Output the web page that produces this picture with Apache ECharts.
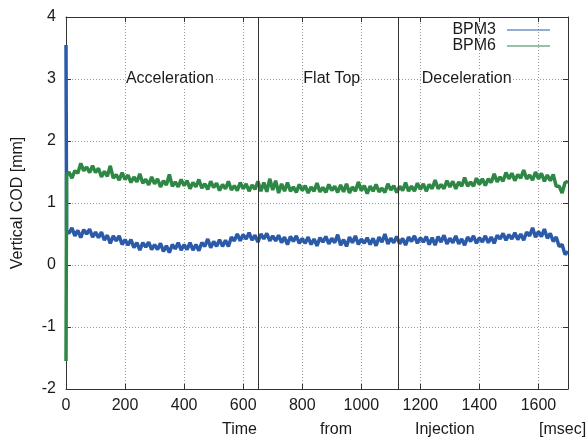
<!DOCTYPE html>
<html>
<head>
<meta charset="utf-8">
<script src="https://cdn.jsdelivr.net/npm/echarts@6/dist/echarts.min.js"></script>
<style>
	html, body {margin: 0; padding: 0; background: #fff;}
	#main {width: 588px; height: 438px;}
</style>
</head>
<body>
<div id="main"></div>
<script>
// sampling interval of the traces [msec]
var timeStep = 10;

// injection transient right at t = 0: [msec, mm]
var bpm3Start = [[0, 3.55], [2, 0.55]];
var bpm6Start = [[0, -1.55], [2, 1.45]];

// vertical COD [mm], one value every timeStep msec from 10 to 1700
var bpm3 = [
	0.51, 0.60, 0.47, 0.56, 0.44, 0.57, 0.50, 0.58, 0.45, 0.53,
	0.44, 0.53, 0.40, 0.48, 0.35, 0.47, 0.39, 0.47, 0.33, 0.41,
	0.32, 0.41, 0.28, 0.36, 0.24, 0.36, 0.29, 0.37, 0.25, 0.33,
	0.25, 0.35, 0.22, 0.31, 0.20, 0.33, 0.26, 0.36, 0.24, 0.33,
	0.25, 0.36, 0.24, 0.33, 0.23, 0.36, 0.30, 0.42, 0.28, 0.38,
	0.30, 0.41, 0.30, 0.40, 0.30, 0.45, 0.39, 0.50, 0.39, 0.49,
	0.42, 0.52, 0.40, 0.48, 0.37, 0.50, 0.42, 0.51, 0.39, 0.47,
	0.39, 0.48, 0.36, 0.45, 0.33, 0.46, 0.38, 0.47, 0.35, 0.43,
	0.35, 0.45, 0.33, 0.42, 0.31, 0.44, 0.37, 0.46, 0.34, 0.43,
	0.36, 0.49, 0.32, 0.41, 0.30, 0.45, 0.36, 0.47, 0.33, 0.42,
	0.35, 0.44, 0.33, 0.43, 0.31, 0.45, 0.37, 0.50, 0.34, 0.43,
	0.36, 0.46, 0.34, 0.43, 0.32, 0.45, 0.38, 0.47, 0.35, 0.44,
	0.37, 0.46, 0.33, 0.44, 0.32, 0.46, 0.37, 0.48, 0.34, 0.43,
	0.36, 0.47, 0.34, 0.42, 0.32, 0.45, 0.38, 0.47, 0.35, 0.44,
	0.37, 0.47, 0.36, 0.45, 0.35, 0.48, 0.42, 0.51, 0.40, 0.49,
	0.42, 0.52, 0.41, 0.50, 0.40, 0.53, 0.47, 0.60, 0.45, 0.54,
	0.46, 0.58, 0.43, 0.51, 0.38, 0.45, 0.30, 0.33, 0.17, 0.22
];
var bpm6 = [
	1.50, 1.40, 1.52, 1.48, 1.64, 1.52, 1.58, 1.49, 1.60, 1.49,
	1.56, 1.42, 1.51, 1.43, 1.60, 1.40, 1.46, 1.37, 1.49, 1.38,
	1.45, 1.33, 1.42, 1.34, 1.47, 1.32, 1.38, 1.29, 1.42, 1.31,
	1.39, 1.26, 1.36, 1.29, 1.46, 1.27, 1.34, 1.26, 1.38, 1.28,
	1.36, 1.23, 1.33, 1.26, 1.38, 1.24, 1.31, 1.22, 1.35, 1.25,
	1.32, 1.20, 1.30, 1.23, 1.35, 1.21, 1.28, 1.20, 1.33, 1.23,
	1.31, 1.19, 1.29, 1.22, 1.35, 1.19, 1.33, 1.18, 1.39, 1.21,
	1.36, 1.16, 1.31, 1.19, 1.33, 1.19, 1.26, 1.17, 1.30, 1.20,
	1.28, 1.16, 1.26, 1.19, 1.32, 1.18, 1.25, 1.17, 1.30, 1.20,
	1.27, 1.17, 1.29, 1.18, 1.31, 1.16, 1.26, 1.19, 1.34, 1.20,
	1.28, 1.15, 1.27, 1.19, 1.30, 1.18, 1.24, 1.17, 1.31, 1.21,
	1.28, 1.17, 1.27, 1.20, 1.33, 1.19, 1.27, 1.19, 1.32, 1.22,
	1.31, 1.19, 1.30, 1.23, 1.37, 1.23, 1.30, 1.23, 1.36, 1.26,
	1.35, 1.23, 1.34, 1.27, 1.41, 1.27, 1.34, 1.27, 1.40, 1.30,
	1.39, 1.28, 1.39, 1.33, 1.47, 1.34, 1.42, 1.35, 1.49, 1.39,
	1.48, 1.36, 1.46, 1.40, 1.53, 1.39, 1.45, 1.37, 1.50, 1.39,
	1.48, 1.35, 1.45, 1.36, 1.46, 1.27, 1.27, 1.16, 1.33, 1.35
];

// phase boundaries [msec] and phase labels
var phaseEdges = [650, 1125];
var phaseNames = ['Acceleration', 'Flat Top', 'Deceleration'];
var phaseLabelX = [352, 900, 1357];
var phaseLabelY = 3;

// x axis title is spread along the bottom in four words
var xTitleWords = ['Time', 'from', 'Injection', '[msec]'];

function toPairs(start, values) {
	var out = start.slice();
	for (var i = 0; i < values.length; i++) {
		out.push([(i + 1) * timeStep, values[i]]);
	}
	return out;
}

var phaseLabels = [];
for (var i = 0; i < phaseNames.length; i++) {
	phaseLabels.push([phaseLabelX[i], phaseLabelY, phaseNames[i]]);
}

var FONT = 'Liberation Sans, Arial, sans-serif';
var TEXT = '#1a1a1a';
var FRAME = '#333';
var gridLine = {show: true, lineStyle: {color: '#9a9a9a', type: [1, 2], width: 1}};

var chart = echarts.init(document.getElementById('main'));

function titleWord(word, left) {
	return {
		type: 'text', left: left, top: 422,
		style: {text: word, fill: TEXT, font: '16px ' + FONT}
	};
}

var option = {
	animation: false,
	backgroundColor: '#fff',
	textStyle: {fontFamily: FONT},
	grid: {left: 66, right: 20, top: 17, bottom: 49},
	legend: {
		data: ['BPM3', 'BPM6'],
		orient: 'vertical',
		right: 33,
		top: 17,
		align: 'right',
		icon: 'rect',
		itemWidth: 43,
		itemHeight: 1,
		itemGap: 0,
		textStyle: {fontSize: 16, color: TEXT, fontFamily: FONT, padding: [0, 6, 0, 0]}
	},
	xAxis: [
		{
			type: 'value', min: 0, max: 1700, interval: 200,
			axisLine: {show: true, onZero: false, lineStyle: {color: FRAME}},
			axisTick: {show: true, inside: true, length: 5, lineStyle: {color: FRAME}},
			axisLabel: {
				fontSize: 16, color: TEXT, margin: 9, showMaxLabel: false,
				formatter: function (v) { return String(v); }
			},
			splitLine: gridLine
		},
		{
			type: 'value', min: 0, max: 1700, interval: 200, position: 'top',
			axisLine: {show: true, onZero: false, lineStyle: {color: FRAME}},
			axisTick: {show: true, inside: true, length: 5, lineStyle: {color: FRAME}},
			axisLabel: {show: false},
			splitLine: {show: false}
		}
	],
	yAxis: [
		{
			type: 'value', min: -2, max: 4, interval: 1,
			name: 'Vertical COD [mm]',
			nameLocation: 'middle',
			nameGap: 40,
			nameTextStyle: {fontSize: 16, color: TEXT, fontFamily: FONT},
			axisLine: {show: true, onZero: false, lineStyle: {color: FRAME}},
			axisTick: {show: true, inside: true, length: 5, lineStyle: {color: FRAME}},
			axisLabel: {fontSize: 16, color: TEXT, margin: 10},
			splitLine: gridLine
		},
		{
			type: 'value', min: -2, max: 4, interval: 1, position: 'right',
			axisLine: {show: true, onZero: false, lineStyle: {color: FRAME}},
			axisTick: {show: true, inside: true, length: 5, lineStyle: {color: FRAME}},
			axisLabel: {show: false},
			splitLine: {show: false}
		}
	],
	graphic: [
		titleWord(xTitleWords[0], 222),
		titleWord(xTitleWords[1], 320),
		titleWord(xTitleWords[2], 415),
		titleWord(xTitleWords[3], 539)
	],
	series: [
		{
			name: 'BPM3',
			type: 'line',
			data: toPairs(bpm3Start, bpm3),
			showSymbol: false,
			symbol: 'none',
			color: '#2a5aa8',
			lineStyle: {width: 3.5, color: '#2a5aa8'},
			z: 3
		},
		{
			name: 'BPM6',
			type: 'line',
			data: toPairs(bpm6Start, bpm6),
			showSymbol: false,
			symbol: 'none',
			color: '#2e8744',
			lineStyle: {width: 3.5, color: '#2e8744'},
			z: 3
		},
		{
			name: 'phases',
			type: 'scatter',
			data: phaseLabels,
			symbolSize: 0,
			silent: true,
			z: 4,
			itemStyle: {opacity: 1},
			label: {
				show: true,
				position: 'inside',
				formatter: function (p) { return p.data[2]; },
				fontSize: 16,
				color: TEXT,
				fontFamily: FONT,
				textBorderWidth: 0,
				backgroundColor: '#fff'
			},
			markLine: {
				silent: true,
				symbol: 'none',
				label: {show: false},
				lineStyle: {color: FRAME, type: 'solid', width: 1},
				data: [{xAxis: phaseEdges[0]}, {xAxis: phaseEdges[1]}]
			}
		}
	]
};

chart.setOption(option);
</script>
</body>
</html>
